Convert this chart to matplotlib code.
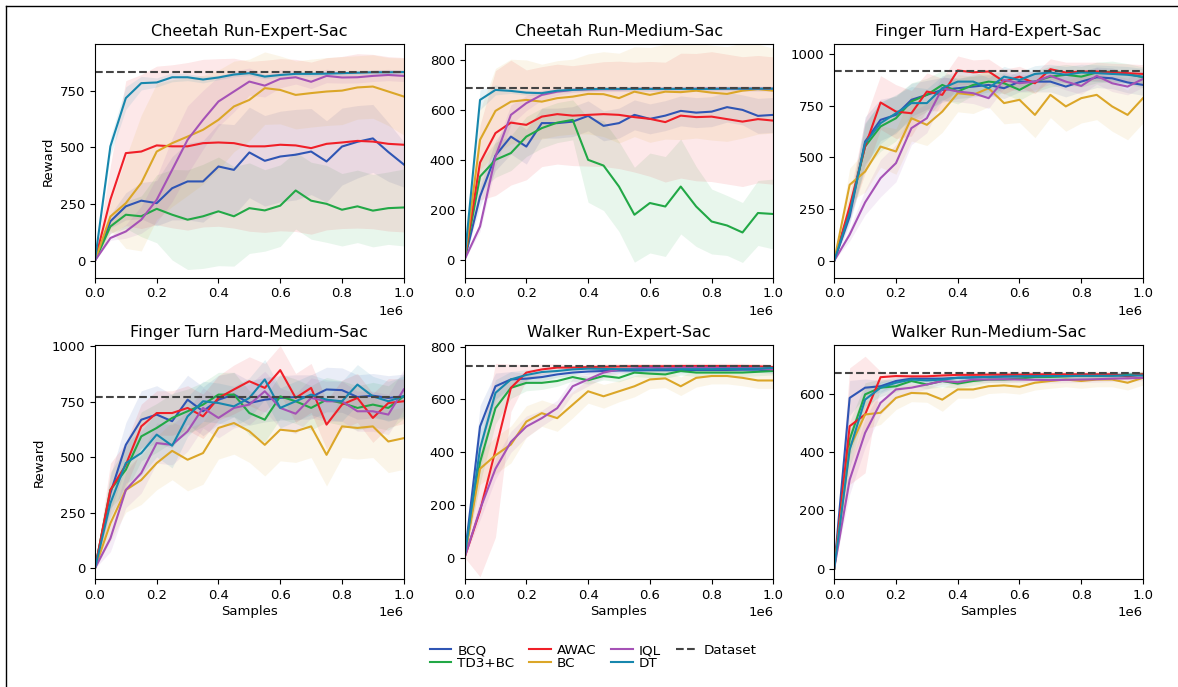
#!/usr/bin/env python3
"""Offline RL learning curves on DMC tasks: reward vs samples, 6 panels."""

import matplotlib
matplotlib.use('Agg')
import matplotlib.pyplot as plt
from matplotlib.lines import Line2D
import numpy as np

# evaluation points (samples)
samples = [0, 50000, 100000, 150000, 200000, 250000, 300000, 350000, 400000, 450000,
           500000, 550000, 600000, 650000, 700000, 750000, 800000, 850000, 900000,
           950000, 1000000]

algos = ['BCQ', 'TD3+BC', 'AWAC', 'BC', 'IQL', 'DT']
colors = {'BCQ': '#2f55b4', 'TD3+BC': '#22a846', 'AWAC': '#f01f28',
          'BC': '#dba628', 'IQL': '#a552b6', 'DT': '#1787ad'}

titles = ['Cheetah Run-Expert-Sac', 'Cheetah Run-Medium-Sac', 'Finger Turn Hard-Expert-Sac',
          'Finger Turn Hard-Medium-Sac', 'Walker Run-Expert-Sac', 'Walker Run-Medium-Sac']
dataset_scores = [834, 687, 919, 773, 728, 670]
ylims = [(-75, 957), (-72, 864), (-82, 1048), (-48, 1003), (-82, 805), (-36, 766)]
yticks = [[0, 250, 500, 750], [0, 200, 400, 600, 800], [0, 250, 500, 750, 1000],
          [0, 250, 500, 750, 1000], [0, 200, 400, 600, 800], [0, 200, 400, 600]]

# --- Cheetah Run-Expert-Sac ---
cheetah_expert_mean = {
    'BCQ':    [0, 174, 240, 265, 254, 320, 350, 350, 416, 401, 478, 441, 460, 468, 482, 438, 504, 525, 540, 480, 425],
    'TD3+BC': [0, 151, 203, 196, 229, 203, 181, 196, 218, 196, 232, 222, 243, 310, 265, 251, 225, 240, 221, 232, 235],
    'AWAC':   [0, 270, 475, 482, 509, 505, 505, 519, 522, 519, 505, 505, 512, 509, 497, 516, 522, 529, 526, 516, 512],
    'BC':     [0, 195, 254, 343, 482, 519, 548, 578, 622, 681, 710, 762, 754, 732, 740, 747, 751, 765, 769, 747, 725],
    'IQL':    [0, 100, 129, 181, 269, 401, 534, 622, 703, 747, 791, 773, 803, 810, 790, 816, 809, 810, 816, 820, 816],
    'DT':     [0, 505, 718, 784, 787, 810, 810, 800, 809, 822, 828, 813, 820, 825, 825, 826, 828, 830, 832, 832, 833],
}
cheetah_expert_std = {
    'BCQ':    [0, 30, 60, 80, 100, 140, 170, 180, 190, 200, 200, 200, 200, 200, 190, 180, 170, 160, 150, 130, 100],
    'TD3+BC': [0, 30, 60, 90, 150, 200, 220, 230, 240, 220, 200, 180, 180, 170, 170, 170, 160, 160, 160, 160, 170],
    'AWAC':   [0, 150, 320, 340, 350, 360, 370, 370, 370, 375, 375, 380, 380, 380, 380, 380, 380, 385, 385, 385, 385],
    'BC':     [0, 60, 200, 300, 300, 280, 260, 240, 220, 200, 180, 160, 150, 150, 150, 150, 150, 140, 140, 150, 170],
    'IQL':    [0, 10, 30, 60, 100, 140, 150, 130, 110, 90, 60, 50, 40, 30, 30, 30, 25, 25, 25, 25, 25],
    'DT':     [0, 40, 50, 30, 20, 20, 15, 15, 10, 10, 10, 10, 10, 10, 10, 10, 10, 10, 10, 10, 10],
}

# --- Cheetah Run-Medium-Sac ---
cheetah_medium_mean = {
    'BCQ':    [0, 253, 417, 493, 453, 547, 547, 553, 576, 536, 547, 580, 564, 577, 596, 589, 593, 611, 600, 576, 580],
    'TD3+BC': [0, 333, 400, 427, 493, 527, 549, 560, 400, 377, 293, 180, 227, 213, 293, 213, 153, 137, 109, 187, 183],
    'AWAC':   [0, 389, 507, 549, 540, 573, 583, 577, 580, 583, 580, 571, 564, 551, 577, 571, 573, 563, 553, 563, 557],
    'BC':     [0, 480, 596, 633, 640, 633, 647, 653, 664, 663, 647, 673, 660, 673, 671, 677, 669, 664, 677, 683, 677],
    'IQL':    [0, 133, 413, 580, 627, 660, 673, 680, 682, 683, 683, 684, 684, 684, 684, 685, 685, 685, 685, 685, 685],
    'DT':     [0, 640, 680, 676, 669, 667, 677, 680, 683, 684, 684, 684, 684, 684, 684, 684, 684, 685, 685, 685, 685],
}
cheetah_medium_std = {
    'BCQ':    [0, 40, 60, 70, 70, 60, 60, 60, 60, 60, 60, 60, 60, 60, 60, 60, 60, 60, 60, 70, 70],
    'TD3+BC': [0, 60, 70, 70, 80, 80, 80, 80, 170, 180, 180, 190, 200, 200, 190, 160, 130, 120, 120, 130, 140],
    'AWAC':   [0, 150, 250, 250, 220, 200, 200, 200, 205, 210, 215, 220, 230, 240, 250, 255, 260, 260, 260, 255, 255],
    'BC':     [0, 120, 170, 170, 160, 150, 150, 150, 160, 170, 180, 180, 190, 190, 190, 190, 190, 190, 190, 180, 170],
    'IQL':    [0, 20, 40, 40, 30, 20, 15, 10, 10, 10, 10, 10, 10, 10, 10, 10, 10, 10, 10, 10, 10],
    'DT':     [0, 40, 20, 10, 10, 10, 8, 8, 8, 8, 8, 8, 8, 8, 8, 8, 8, 8, 8, 8, 8],
}

# --- Finger Turn Hard-Expert-Sac ---
finger_expert_mean = {
    'BCQ':    [0, 214, 576, 681, 705, 778, 802, 826, 834, 842, 850, 834, 866, 866, 866, 842, 866, 887, 882, 862, 850],
    'TD3+BC': [0, 246, 552, 649, 689, 770, 802, 850, 818, 850, 866, 858, 826, 866, 890, 899, 890, 910, 915, 903, 887],
    'AWAC':   [0, 262, 552, 765, 721, 713, 818, 802, 920, 911, 915, 866, 890, 858, 926, 910, 915, 915, 910, 907, 903],
    'BC':     [0, 367, 431, 552, 528, 689, 657, 721, 810, 802, 834, 762, 778, 705, 802, 746, 786, 802, 746, 705, 786],
    'IQL':    [0, 126, 282, 399, 472, 641, 689, 834, 818, 810, 786, 874, 858, 866, 894, 866, 845, 894, 858, 842, 879],
    'DT':     [0, 230, 568, 665, 713, 762, 762, 834, 866, 866, 834, 890, 874, 903, 910, 899, 910, 907, 903, 899, 890],
}
finger_expert_std = {
    'BCQ':    [0, 40, 120, 100, 90, 80, 70, 60, 50, 50, 50, 50, 50, 50, 50, 50, 50, 50, 50, 50, 50],
    'TD3+BC': [0, 40, 110, 120, 110, 90, 80, 70, 60, 50, 50, 50, 50, 50, 50, 50, 50, 50, 50, 50, 50],
    'AWAC':   [0, 60, 130, 130, 130, 110, 90, 80, 70, 60, 60, 60, 50, 50, 50, 50, 45, 45, 45, 45, 45],
    'BC':     [0, 80, 100, 100, 110, 110, 100, 100, 90, 90, 90, 100, 110, 110, 110, 120, 120, 120, 120, 120, 120],
    'IQL':    [0, 30, 60, 90, 90, 80, 70, 60, 50, 50, 50, 40, 40, 40, 40, 40, 40, 40, 40, 40, 40],
    'DT':     [0, 40, 100, 100, 90, 80, 70, 60, 50, 50, 50, 50, 40, 40, 40, 40, 40, 40, 40, 40, 40],
}

# --- Finger Turn Hard-Medium-Sac ---
finger_medium_mean = {
    'BCQ':    [0, 338, 556, 669, 692, 662, 759, 707, 759, 782, 744, 759, 767, 771, 771, 805, 802, 771, 777, 767, 774],
    'TD3+BC': [0, 353, 444, 594, 632, 677, 707, 737, 782, 782, 699, 669, 774, 752, 722, 759, 744, 722, 737, 722, 774],
    'AWAC':   [0, 353, 466, 639, 699, 699, 722, 684, 767, 805, 842, 812, 892, 767, 812, 647, 737, 767, 677, 744, 752],
    'BC':     [0, 203, 353, 398, 474, 529, 489, 519, 632, 654, 617, 556, 624, 617, 639, 511, 639, 632, 639, 571, 586],
    'IQL':    [0, 135, 353, 429, 564, 556, 617, 722, 677, 722, 737, 797, 722, 696, 767, 752, 752, 707, 707, 692, 805],
    'DT':     [0, 293, 474, 519, 602, 552, 684, 752, 744, 729, 767, 850, 722, 752, 782, 759, 752, 827, 774, 752, 774],
}
finger_medium_std = {
    'BCQ':    [0, 80, 100, 130, 130, 120, 110, 110, 110, 100, 100, 100, 100, 100, 100, 100, 100, 100, 100, 100, 100],
    'TD3+BC': [0, 80, 100, 110, 110, 110, 100, 100, 100, 100, 100, 100, 100, 100, 100, 100, 100, 100, 100, 100, 100],
    'AWAC':   [0, 120, 100, 100, 100, 100, 100, 100, 100, 110, 110, 110, 110, 110, 110, 110, 110, 110, 110, 110, 100],
    'BC':     [0, 80, 100, 110, 120, 130, 140, 140, 140, 140, 140, 140, 140, 140, 140, 140, 140, 140, 140, 140, 140],
    'IQL':    [0, 60, 80, 90, 90, 90, 90, 90, 90, 90, 90, 90, 90, 90, 90, 90, 90, 90, 90, 90, 90],
    'DT':     [0, 70, 90, 100, 100, 100, 90, 90, 90, 90, 90, 90, 90, 90, 90, 90, 90, 90, 90, 90, 90],
}

# --- Walker Run-Expert-Sac ---
walker_expert_mean = {
    'BCQ':    [0, 497, 650, 676, 679, 685, 695, 702, 706, 708, 710, 710, 711, 711, 711, 712, 712, 712, 713, 713, 708],
    'TD3+BC': [0, 362, 567, 644, 663, 663, 670, 685, 673, 689, 682, 702, 698, 695, 708, 702, 702, 702, 702, 705, 708],
    'AWAC':   [0, 177, 407, 644, 702, 714, 721, 721, 723, 724, 725, 726, 726, 726, 727, 727, 727, 727, 727, 726, 723],
    'BC':     [0, 337, 388, 429, 516, 548, 529, 580, 631, 612, 631, 650, 676, 680, 650, 682, 689, 689, 682, 672, 672],
    'IQL':    [0, 183, 337, 439, 497, 529, 567, 650, 676, 702, 714, 718, 721, 718, 721, 721, 721, 720, 720, 718, 714],
    'DT':     [0, 413, 625, 676, 693, 704, 708, 714, 717, 716, 715, 714, 714, 714, 715, 715, 715, 716, 716, 717, 720],
}
walker_expert_std = {
    'BCQ':    [0, 80, 50, 30, 20, 15, 10, 10, 10, 10, 10, 10, 10, 10, 10, 10, 10, 10, 10, 10, 10],
    'TD3+BC': [0, 80, 60, 40, 30, 25, 20, 15, 15, 15, 15, 15, 15, 15, 15, 15, 15, 15, 15, 15, 15],
    'AWAC':   [0, 250, 330, 90, 30, 20, 15, 10, 10, 10, 10, 10, 10, 10, 10, 10, 10, 10, 10, 10, 10],
    'BC':     [0, 60, 70, 70, 60, 50, 50, 50, 45, 45, 40, 40, 35, 35, 35, 35, 30, 30, 30, 30, 30],
    'IQL':    [0, 40, 40, 40, 40, 30, 30, 30, 25, 20, 15, 10, 10, 10, 10, 10, 10, 10, 10, 10, 10],
    'DT':     [0, 80, 50, 30, 20, 15, 10, 10, 10, 10, 10, 10, 10, 10, 10, 10, 10, 10, 10, 10, 10],
}

# --- Walker Run-Medium-Sac ---
walker_medium_mean = {
    'BCQ':    [0, 586, 621, 626, 644, 652, 652, 652, 655, 656, 658, 660, 660, 661, 661, 662, 663, 663, 664, 665, 666],
    'TD3+BC': [0, 443, 598, 621, 626, 644, 632, 644, 635, 644, 649, 649, 652, 658, 658, 660, 662, 662, 663, 665, 667],
    'AWAC':   [0, 489, 529, 657, 661, 660, 660, 663, 665, 665, 666, 666, 666, 667, 667, 667, 667, 667, 667, 660, 667],
    'BC':     [0, 414, 529, 535, 586, 603, 601, 580, 615, 615, 626, 629, 624, 638, 644, 649, 644, 649, 649, 638, 655],
    'IQL':    [0, 305, 466, 569, 615, 621, 632, 644, 640, 649, 649, 650, 649, 648, 647, 648, 649, 650, 652, 653, 655],
    'DT':     [0, 408, 580, 621, 638, 649, 646, 649, 655, 657, 658, 659, 660, 660, 661, 661, 662, 662, 662, 663, 663],
}
walker_medium_std = {
    'BCQ':    [0, 60, 30, 20, 15, 10, 10, 10, 10, 10, 10, 10, 10, 10, 10, 10, 10, 10, 10, 10, 10],
    'TD3+BC': [0, 60, 40, 30, 20, 15, 15, 20, 15, 15, 10, 10, 10, 10, 10, 10, 10, 10, 10, 10, 10],
    'AWAC':   [0, 200, 200, 20, 10, 10, 10, 10, 10, 10, 10, 10, 10, 10, 10, 10, 10, 10, 10, 10, 10],
    'BC':     [0, 60, 50, 40, 40, 30, 30, 40, 30, 30, 25, 25, 25, 25, 25, 25, 25, 25, 25, 25, 25],
    'IQL':    [0, 50, 50, 40, 30, 20, 15, 10, 10, 10, 10, 10, 10, 10, 10, 10, 10, 10, 10, 10, 10],
    'DT':     [0, 60, 40, 20, 15, 10, 10, 10, 10, 10, 10, 10, 10, 10, 10, 10, 10, 10, 10, 10, 10],
}

panels = [
    (cheetah_expert_mean, cheetah_expert_std),
    (cheetah_medium_mean, cheetah_medium_std),
    (finger_expert_mean, finger_expert_std),
    (finger_medium_mean, finger_medium_std),
    (walker_expert_mean, walker_expert_std),
    (walker_medium_mean, walker_medium_std),
]


def main():
    fig, axes = plt.subplots(2, 3, figsize=(11.78, 6.87), dpi=100)
    fig.subplots_adjust(left=0.0806, right=0.9703, top=0.936, bottom=0.157,
                        wspace=0.197, hspace=0.29)

    x = np.array(samples, dtype=float)
    for i, ax in enumerate(axes.flat):
        means, stds = panels[i]
        for algo in algos:
            m = np.array(means[algo], dtype=float)
            s = np.array(stds[algo], dtype=float)
            ax.fill_between(x, m - s, m + s, color=colors[algo], alpha=0.1, linewidth=0)
            ax.plot(x, m, color=colors[algo], lw=1.5, label=algo)
        ax.axhline(dataset_scores[i], color='#444444', ls='--', lw=1.5, label='Dataset')

        ax.set_xlim(0, 1e6)
        ax.set_ylim(*ylims[i])
        ax.set_xticks([0, 2e5, 4e5, 6e5, 8e5, 1e6])
        ax.set_yticks(yticks[i])
        ax.set_title(titles[i], fontsize=11.5)
        ax.tick_params(labelsize=9.5)
        ax.xaxis.get_offset_text().set_fontsize(9.5)
        if i % 3 == 0:
            ax.set_ylabel('Reward', fontsize=9.5)
        if i >= 3:
            ax.set_xlabel('Samples', fontsize=9.5, labelpad=2)

    handles, labels = axes.flat[0].get_legend_handles_labels()
    fig.legend(handles, labels, loc='center', bbox_to_anchor=(593 / 1178, 1 - 657 / 687),
               ncol=4, frameon=False, fontsize=9.7, handlelength=1.6,
               columnspacing=1.1, labelspacing=0.0, handletextpad=0.45)

    # frame lines around the figure (top and left visible)
    fig.add_artist(Line2D([6 / 1178, 1.0], [1 - 6 / 687, 1 - 6 / 687],
                          transform=fig.transFigure, color='black', lw=1))
    fig.add_artist(Line2D([6 / 1178, 6 / 1178], [0.0, 1 - 6 / 687],
                          transform=fig.transFigure, color='black', lw=1))

    fig.savefig('out.png', dpi=100)
    plt.close(fig)


if __name__ == '__main__':
    main()
